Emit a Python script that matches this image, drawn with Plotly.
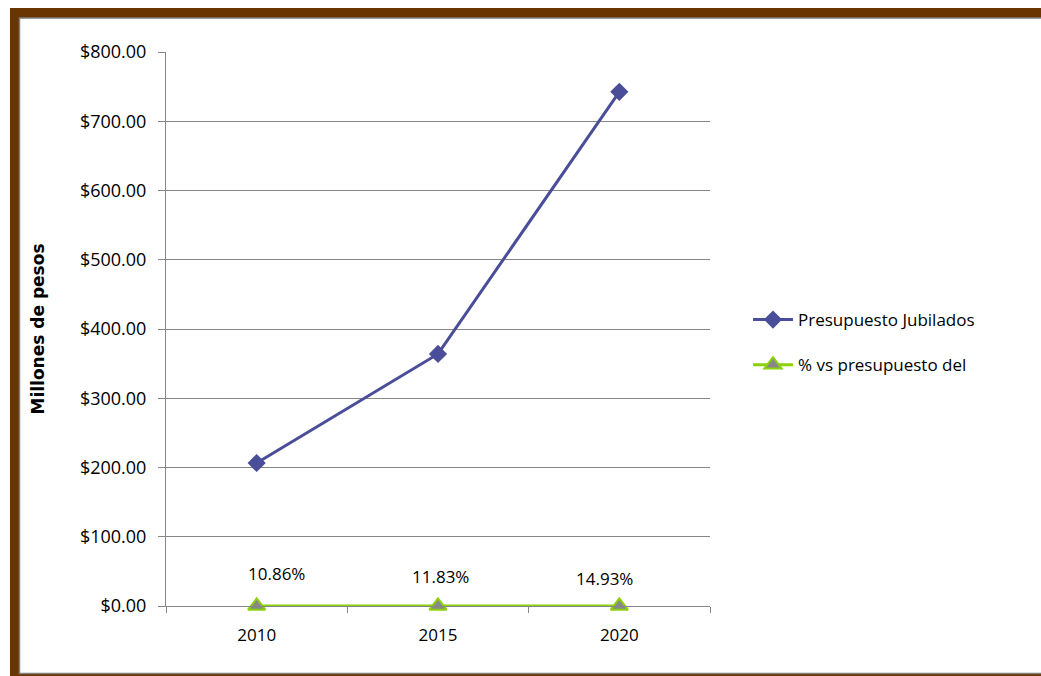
import plotly.graph_objects as go

years = ["2010", "2015", "2020"]
presupuesto = [206.5, 364.0, 742.5]          # millones de pesos
porcentaje = [10.86, 11.83, 14.93]           # % vs presupuesto
pct_labels = [f"{v:.2f}%" for v in porcentaje]

W, H = 1041, 676
L, R, T, B = 166, 710, 52, 606

def px(x):
    return (x - L) / (R - L)

def py(y):
    return (B - y) / (B - T)

fig = go.Figure()
fig.add_trace(go.Scatter(
    x=years, y=presupuesto, name="Presupuesto Jubilados", mode="lines+markers",
    line=dict(color="#4a4e98", width=3),
    marker=dict(symbol="diamond", size=14, color="#4a4e98"),
    legendgroup="a",
))
fig.add_trace(go.Scatter(
    x=years, y=[v / 100 for v in porcentaje], name="% vs presupuesto del",
    mode="lines+markers", cliponaxis=False,
    line=dict(color="#8cd20a", width=3),
    marker=dict(symbol="triangle-up", size=15, color="#888888",
                line=dict(color="#8cd20a", width=2)),
    legendgroup="b",
))

shifts = [(20, 33), (2, 30), (-15, 28)]
for i, (lab, (dx, dy)) in enumerate(zip(pct_labels, shifts)):
    fig.add_annotation(x=i, xref="x", y=0, yref="paper", yanchor="middle",
                       text=lab, showarrow=False,
                       xshift=dx, yshift=dy, font=dict(size=17, color="#000000"))

# frame
fig.add_shape(type="rect", xref="paper", yref="paper",
              x0=px(10), x1=px(1100), y0=py(8), y1=py(720),
              fillcolor="#6b3500", line=dict(width=0), layer="below")
fig.add_shape(type="rect", xref="paper", yref="paper",
              x0=px(19.5), x1=px(1100), y0=py(18), y1=py(673.5),
              fillcolor="#ffffff", line=dict(color="#7f7f7f", width=1.5), layer="below")

fig.update_layout(
    width=W, height=H,
    margin=dict(l=L, r=W - R, t=T, b=H - B),
    paper_bgcolor="#ffffff", plot_bgcolor="rgba(0,0,0,0)",
    font=dict(family="Open Sans, Noto Sans, sans-serif", size=17, color="#000000"),
    showlegend=True,
    legend=dict(x=px(748), y=py(302), xanchor="left", yanchor="top",
                font=dict(size=17), tracegroupgap=20, traceorder="grouped",
                bgcolor="rgba(0,0,0,0)", itemwidth=40),
    xaxis=dict(type="category", tickson="boundaries", ticks="outside", ticklen=6,
               tickcolor="#868686", showline=True, linecolor="#868686", linewidth=1,
               showgrid=False, range=[-0.5, 2.5], tickfont=dict(size=17),
               ticklabelstandoff=14),
    yaxis=dict(range=[0, 800], dtick=100, tickprefix="$", tickformat=",.2f",
               ticks="outside", ticklen=7, tickcolor="#868686",
               showline=True, linecolor="#868686", linewidth=1,
               showgrid=True, gridcolor="#868686", gridwidth=1, zeroline=False,
               tickfont=dict(size=18), ticklabelstandoff=8,
               title=dict(text="<b>Millones de pesos</b>",
                          font=dict(family="DejaVu Sans, sans-serif", size=17),
                          standoff=30)),
)

fig.write_html("out.html", config={"displayModeBar": False},
               post_script="document.body.style.margin='0';")
